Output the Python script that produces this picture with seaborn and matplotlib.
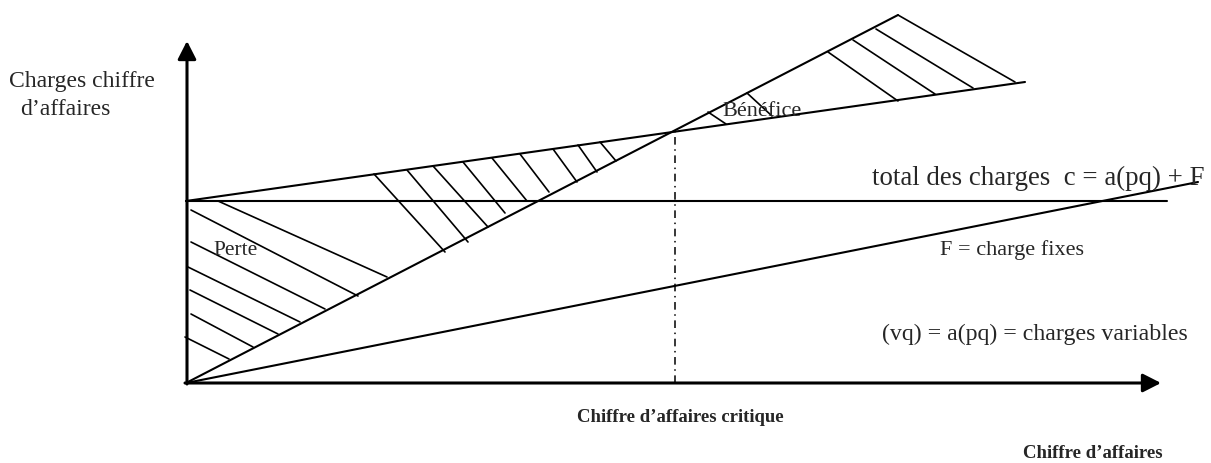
import matplotlib
matplotlib.use("Agg")
import matplotlib.pyplot as plt
import seaborn as sns
import pandas as pd

# ---- data (origin of the diagram = (0, 0)) ----
revenue_x = [0, 712]          # chiffre d'affaires line
revenue_y = [0, 368]
total_cost_x = [0, 839]       # total des charges c = a(pq) + F
total_cost_y = [182, 301]
fixed_x = [0, 981]            # F = charges fixes
fixed_y = [182, 182]
variable_x = [0, 1012]        # (vq) = a(pq) = charges variables
variable_y = [0, 201]
breakeven_x = 489
breakeven_y = 251

perte_x0 = [32, 5, 5, 2, 4, 5, -1]
perte_y0 = [182, 173, 141, 116, 93, 69, 46]
perte_x1 = [201, 172, 139, 114, 92, 67, 43]
perte_y1 = [106, 87, 74, 61, 49, 36, 24]

mid_x0 = [188, 221, 247, 277, 306, 334, 367, 392, 414]
mid_y0 = [209, 213, 217, 221, 225, 229, 234, 238, 241]
mid_x1 = [259, 282, 302, 319, 341, 363, 391, 411, 430]
mid_y1 = [131, 141, 156, 170, 182, 191, 201, 211, 222]

benef_x0 = [522, 561, 642, 667, 690, 712]
benef_y0 = [271, 290, 331, 343, 354, 368]
benef_x1 = [540, 586, 712, 749, 787, 829]
benef_y1 = [259, 267, 282, 289, 295, 301]

x_axis_end = 975
y_axis_end = 342

# ---- build tables ----
rows = []
for sid, (xs, ys) in enumerate([(revenue_x, revenue_y), (total_cost_x, total_cost_y),
                                (fixed_x, fixed_y), (variable_x, variable_y)]):
    for x, y in zip(xs, ys):
        rows.append({"seg": sid, "x": x, "y": y})
main_df = pd.DataFrame(rows)

hrows = []
sid = 0
for X0, Y0, X1, Y1 in [(perte_x0, perte_y0, perte_x1, perte_y1),
                       (mid_x0, mid_y0, mid_x1, mid_y1),
                       (benef_x0, benef_y0, benef_x1, benef_y1)]:
    for a, b, c, d in zip(X0, Y0, X1, Y1):
        hrows.append({"seg": sid, "x": a, "y": b})
        hrows.append({"seg": sid, "x": c, "y": d})
        sid += 1
hatch_df = pd.DataFrame(hrows)

sns.set_theme(style="white")
plt.rcParams["font.family"] = ["Liberation Serif", "DejaVu Serif"]

fig = plt.figure(figsize=(12.11, 4.64), dpi=100)
ax = fig.add_axes([0, 0, 1, 1])
ax.set_xlim(-186, 1025)
ax.set_ylim(-80, 384)
ax.axis("off")

sns.lineplot(data=main_df, x="x", y="y", units="seg", estimator=None, sort=False,
             color="black", lw=1.5, ax=ax, legend=False)
sns.lineplot(data=hatch_df, x="x", y="y", units="seg", estimator=None, sort=False,
             color="black", lw=1.2, ax=ax, legend=False)

# critical turnover dash-dot line
ax.plot([breakeven_x, breakeven_x], [0, breakeven_y], color="black", lw=1.1,
        linestyle=(0, (5, 3, 1, 3)))

# axes with arrows
arrow = dict(arrowstyle="-|>,head_length=0.55,head_width=0.28", color="black",
             lw=2.2, shrinkA=0, shrinkB=0, mutation_scale=20)
ax.annotate("", xy=(x_axis_end, 0), xytext=(-1, 0), arrowprops=arrow)
ax.annotate("", xy=(1, y_axis_end), xytext=(1, -1), arrowprops=arrow)

# texts
ax.text(-177, 297, "Charges chiffre", fontsize=17, va="baseline", ha="left")
ax.text(-166, 269, "d\u2019affaires", fontsize=17, va="baseline", ha="left")
ax.text(27, 129, "Perte", fontsize=15.5, va="baseline", ha="left")
ax.text(536, 268, "Bénéfice", fontsize=16, va="baseline", ha="left")
ax.text(686, 199, "total des charges  c = a(pq) + F", fontsize=19.4, va="baseline", ha="left")
ax.text(754, 129, "F = charge fixes", fontsize=16, va="baseline", ha="left")
ax.text(696, 44, "(vq) = a(pq) = charges variables", fontsize=17.2, va="baseline", ha="left")
ax.text(494, -38, "Chiffre d\u2019affaires critique", fontsize=13.5, fontweight="bold",
        va="baseline", ha="center")
ax.text(977, -74, "Chiffre d\u2019affaires", fontsize=13.5, fontweight="bold",
        va="baseline", ha="right")

fig.savefig("out.png", dpi=100)
